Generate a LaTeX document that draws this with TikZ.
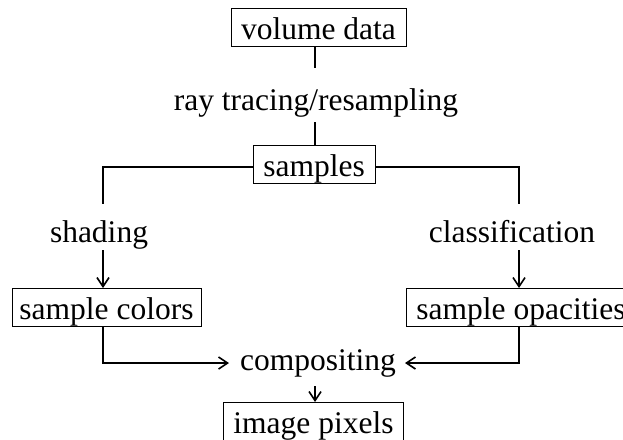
\documentclass[tikz,border=0pt]{standalone}
\usepackage{fontspec}
\setmainfont{Liberation Serif}
\usetikzlibrary{arrows.meta}
\begin{document}
\begin{tikzpicture}[x=1pt,y=-1pt,
  every node/.style={font=\fontsize{31.5}{36}\selectfont, text height=29pt, text depth=5pt, inner sep=0pt},
  box/.style={draw, line width=1pt, minimum height=38pt},
  flow/.style={line width=1.1pt},
  arr/.style={flow, -{Straight Barb[length=9pt,width=12pt,line width=1.6pt]}}]
\useasboundingbox (0,0) rectangle (623,439);

% pipeline stages and operations
\node[box, minimum width=175pt] (vol) at (318.5,27) {volume data};
\node[anchor=base] (ray) at (316,110) {ray tracing/resampling};
\node[box, minimum width=122pt] (smp) at (314,164) {samples};
\node[anchor=base] (shd) at (99,242) {shading};
\node[anchor=base] (cls) at (512,242) {classification};
\node[box, minimum width=189pt] (col) at (106.5,307.5) {sample colors};
\node[box, minimum width=229pt, anchor=west] (opa) at (406,307.5) {sample opacities};
\node[anchor=base] (cmp) at (318,370) {compositing};
\node[box, minimum width=180pt, anchor=north west] (pix) at (223,402) {image pixels};

% connector end points beside the operation labels
\coordinate (rayTop) at (315,68);
\coordinate (rayBot) at (315,122);
\coordinate (hy) at (0,167);
\coordinate (shdTop) at (103,204);
\coordinate (shdBot) at (103,250);
\coordinate (clsTop) at (519,204);
\coordinate (clsBot) at (519,250);
\coordinate (cmpL) at (229,363);
\coordinate (cmpR) at (405,363);
\coordinate (cmpB) at (315,386);

% connectors
\draw[flow] (vol.south -| rayTop) -- (rayTop);
\draw[flow] (rayBot) -- (smp.north -| rayBot);
\draw[flow] (smp.west |- hy) -| (shdTop);
\draw[flow] (smp.east |- hy) -| (clsTop);
\draw[arr] (shdBot) -- (col.north -| shdBot);
\draw[arr] (clsBot) -- (opa.north -| clsBot);
\draw[arr] (col.south -| shdBot) |- (cmpL);
\draw[arr] (opa.south -| clsBot) |- (cmpR);
\draw[arr] (cmpB) -- (pix.north -| cmpB);
\end{tikzpicture}
\end{document}
